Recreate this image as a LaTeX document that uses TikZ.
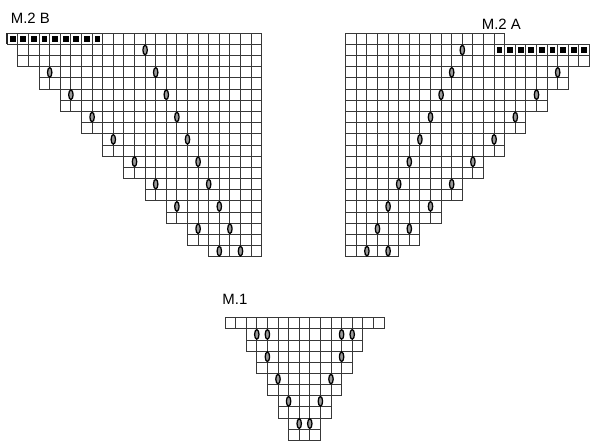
\documentclass[tikz,border=0pt]{standalone}
\usepackage{fontspec}
\setmainfont{Liberation Sans}
\begin{document}
\begin{tikzpicture}[x=0.75pt,y=-0.75pt,
  cell/.style={draw=black!78,line width=0.72pt},
  yo/.style={draw=black,fill=black!40,line width=0.95pt},
  bsq/.style={fill=black},
  thickedge/.style={draw=black!85,line width=1.3pt},
  lab/.style={font=\fontsize{11.2}{13}\selectfont,inner sep=0pt,anchor=base west}]
\useasboundingbox (0,0) rectangle (600,448);
\def\cw{10.6}
\def\rh{11.17}
% one row of cells: X0, Y0, row, first cell, last cell
\newcommand\chartrow[5]{%
  \foreach \c in {#4,...,#5} {\draw[cell] ({#1+\c*\cw},{#2+(#3-1)*\rh}) rectangle ++(\cw,\rh);}}
% yarn over centred on grid line: X0, Y0, line, row
\newcommand\yarnover[4]{\draw[yo] ({#1+#3*\cw},{#2+(#4-0.5)*\rh}) ellipse [x radius=2.2, y radius=4.8];}
% black square in cell: X0, Y0, cell, row
\newcommand\blacksq[4]{\fill[bsq] ({#1+(#3+0.5)*\cw-2.9},{#2+(#4-0.5)*\rh-2.9}) rectangle ++(5.8,5.8);}

% ---------- M.2 B ----------
\chartrow{7.3}{33.3}{1}{0}{23}
\foreach \r in {2,...,20} {
  \pgfmathtruncatemacro\s{2*floor(\r/2)-1}
  \chartrow{7.3}{33.3}{\r}{\s}{23}
}
\draw[thickedge] (7.3,33.3) -- (7.3,{33.3+\rh});
\foreach \c in {0,...,8} {\blacksq{7.3}{33.3}{\c}{1}}
\yarnover{7.3}{33.3}{13}{2}
\foreach \r in {4,6,...,20} {
  \pgfmathtruncatemacro\b{12+\r/2}
  \yarnover{7.3}{33.3}{\r}{\r}
  \yarnover{7.3}{33.3}{\b}{\r}
}
\node[lab] (labB) at (10.6,24) {M.2 B};

% ---------- M.2 A ----------
\chartrow{345.7}{33.3}{1}{0}{14}
\foreach \r in {2,...,20} {
  \pgfmathtruncatemacro\e{23-(2*floor(\r/2)-1)}
  \chartrow{345.7}{33.3}{\r}{0}{\e}
}
\foreach \c in {14,...,22} {\blacksq{345.7}{33.3}{\c}{2}}
\yarnover{345.7}{33.3}{11}{2}
\foreach \r in {4,6,...,20} {
  \pgfmathtruncatemacro\a{12-\r/2}
  \pgfmathtruncatemacro\b{24-\r}
  \yarnover{345.7}{33.3}{\a}{\r}
  \yarnover{345.7}{33.3}{\b}{\r}
}
\node[lab] (labA) at (481.6,29.3) {M.2 A};

% ---------- M.1 ----------
\begin{scope}
\def\rh{11.15}
\chartrow{225}{317.7}{1}{0}{14}
\foreach \r/\f/\l in {2/2/12,3/2/12,4/3/11,5/3/11,6/4/10,7/4/10,8/5/9,9/5/9,10/6/8,11/6/8} {
  \chartrow{225}{317.7}{\r}{\f}{\l}
}
\foreach \r/\p in {2/3,2/4,2/11,2/12,4/4,4/11,6/5,6/10,8/6,8/9,10/7,10/8} {
  \yarnover{225}{317.7}{\p}{\r}
}
\end{scope}
\node[lab] (lab1) at (222.2,305) {M.1};
\end{tikzpicture}
\end{document}
